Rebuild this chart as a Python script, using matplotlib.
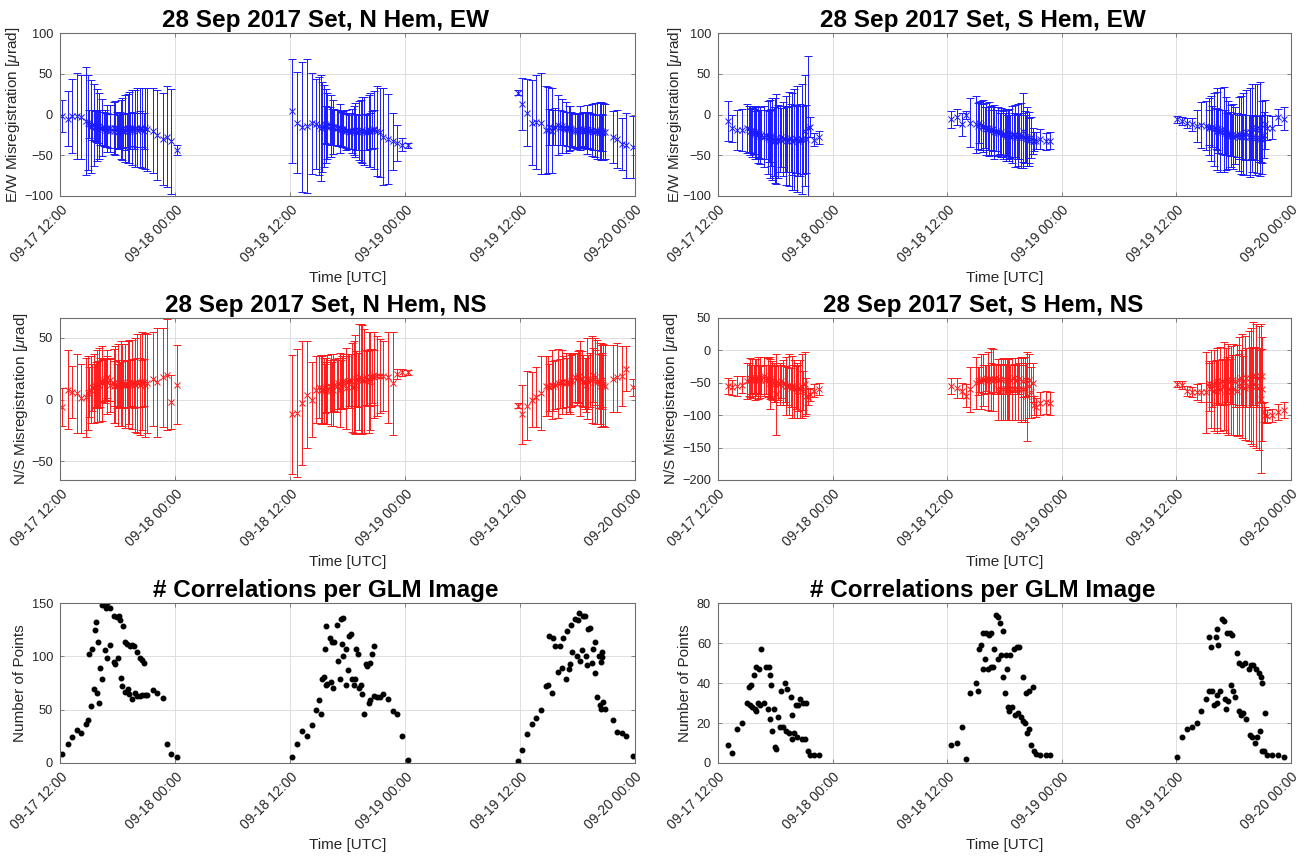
import numpy as np
import matplotlib
matplotlib.use("Agg")
import matplotlib.pyplot as plt
import matplotlib.dates as mdates

plt.rcParams["font.family"] = ["Liberation Sans", "DejaVu Sans"]
plt.rcParams["mathtext.fontset"] = "custom"
plt.rcParams["mathtext.rm"] = "Liberation Sans"
plt.rcParams["mathtext.it"] = "Liberation Sans:italic"

# hours after 2017-09-17 12:00 UTC, one entry per GLM image
# ---- northern hemisphere, three passes ----
n1_hours = [0.25, 0.8, 1.25, 1.8, 2.2, 2.7, 2.9, 3.06, 3.24, 3.3,
            3.5, 3.6, 3.8, 3.9, 3.97, 4.05, 4.2, 4.35, 4.4, 4.6,
            4.7, 4.8, 4.9, 4.95, 5.2, 5.25, 5.6, 5.65, 5.75, 5.9,
            6.0, 6.1, 6.3, 6.35, 6.5, 6.55, 6.75, 6.8, 7.0, 7.05,
            7.2, 7.3, 7.5, 7.55, 7.75, 7.8, 8.0, 8.05, 8.3, 8.35,
            8.5, 8.55, 8.8, 8.85, 9.1, 9.75, 10.1, 10.7, 11.2, 11.55,
            12.2]
n1_count = [8, 18, 24, 31, 28, 37, 40, 102, 53, 107,
            69, 125, 132, 66, 113, 56, 89, 148, 79, 150,
            106, 145, 98, 150, 145, 111, 138, 95, 93, 137,
            98, 138, 134, 80, 72, 128, 113, 67, 112, 69,
            65, 110, 60, 111, 110, 66, 104, 63, 63, 98,
            97, 64, 94, 64, 64, 68, 66, 61, 18, 8,
            6]
n1_ew = [-2, -5, -2, -2, -3, -8, -10, -12, -15, -13,
         -13, -14, -15, -13, -15, -14, -16, -17, -16, -18,
         -17, -19, -17, -19, -20, -17, -20, -17, -17, -19,
         -21, -20, -19, -18, -18, -20, -21, -17, -19, -17,
         -16, -20, -16, -18, -20, -17, -19, -16, -16, -18,
         -19, -17, -20, -17, -18, -20, -25, -30, -27, -33,
         -44]
n1_ew_sd = [20, 34, 45, 53, 52, 66, 58, 17, 57, 18,
            50, 19, 19, 44, 20, 40, 21, 20, 35, 21,
            22, 21, 29, 21, 21, 29, 21, 32, 33, 22,
            21, 22, 22, 36, 38, 21, 22, 41, 21, 42,
            44, 22, 46, 21, 22, 47, 21, 48, 49, 22,
            21, 49, 22, 50, 51, 52, 55, 57, 62, 64,
            6]
n1_ns = [-6, 8, 6, 5, 1, 2, 5, 6, 8, 10,
         9, 11, 12, 11, 12, 12, 14, 15, 13, 16,
         15, 17, 14, 18, 16, 12, 13, 11, 12, 11,
         12, 13, 12, 13, 12, 13, 12, 11, 13, 12,
         14, 13, 12, 14, 13, 12, 14, 13, 12, 14,
         13, 15, 14, 12, 13, 17, 14, 18, 20, -2,
         12]
n1_ns_sd = [15, 32, 21, 32, 28, 32, 30, 20, 27, 19,
            28, 18, 18, 29, 19, 30, 20, 17, 30, 17,
            18, 17, 26, 17, 17, 22, 18, 30, 31, 18,
            33, 19, 18, 34, 33, 19, 19, 34, 19, 35,
            34, 19, 36, 19, 20, 38, 20, 40, 41, 20,
            19, 40, 19, 42, 40, 38, 44, 40, 45, 22,
            32]

n2_hours = [24.2, 24.7, 25.2, 25.8, 26.3, 26.7, 27.0, 27.2, 27.3, 27.5,
            27.6, 27.7, 27.8, 27.9, 28.2, 28.25, 28.4, 28.5, 28.6, 28.9,
            29.0, 29.2, 29.3, 29.4, 29.5, 29.55, 29.8, 29.85, 30.0, 30.2,
            30.35, 30.5, 30.7, 30.8, 30.9, 31.1, 31.2, 31.4, 31.5, 31.7,
            31.9, 32.0, 32.2, 32.3, 32.35, 32.6, 32.75, 32.8, 33.1, 33.4,
            33.7, 34.2, 34.7, 35.2, 35.7, 36.3]
n2_count = [6, 18, 30, 25, 36, 50, 59, 46, 79, 81,
            107, 73, 128, 74, 117, 76, 113, 70, 113, 129,
            96, 79, 135, 112, 136, 100, 107, 73, 87, 119,
            121, 79, 73, 79, 107, 102, 70, 73, 65, 46,
            93, 91, 56, 59, 94, 102, 110, 63, 62, 62,
            65, 60, 49, 46, 25, 3]
n2_ew = [4, -10, -15, -14, -11, -12, -14, -17, -15, -14,
         -12, -14, -13, -14, -14, -14, -15, -15, -15, -16,
         -17, -17, -18, -18, -19, -18, -20, -19, -20, -21,
         -20, -20, -20, -19, -21, -22, -20, -20, -19, -20,
         -21, -22, -20, -19, -20, -19, -18, -19, -20, -22,
         -27, -30, -33, -35, -37, -38]
n2_ew_sd = [64, 62, 80, 82, 62, 55, 60, 65, 55, 50,
            23, 45, 23, 40, 23, 38, 22, 33, 22, 22,
            22, 30, 21, 22, 21, 22, 21, 25, 22, 21,
            22, 27, 30, 33, 22, 21, 36, 38, 40, 42,
            22, 22, 44, 45, 22, 23, 23, 48, 55, 55,
            60, 55, 35, 22, 8, 3]
n2_ns = [-12, -11, -3, 4, 0, 8, 10, 8, 8, 7,
         9, 7, 10, 8, 11, 8, 10, 8, 12, 11,
         13, 8, 12, 14, 13, 15, 14, 9, 15, 16,
         15, 10, 10, 12, 17, 16, 18, 17, 16, 15,
         18, 17, 14, 15, 18, 19, 18, 20, 19, 19,
         19, 18, 13, 21, 22, 22]
n2_ns_sd = [48, 52, 50, 43, 30, 27, 25, 28, 27, 27,
            20, 27, 20, 28, 21, 29, 20, 29, 21, 21,
            21, 30, 20, 21, 21, 22, 21, 33, 22, 21,
            22, 36, 37, 40, 22, 22, 43, 44, 44, 42,
            22, 22, 41, 40, 23, 22, 22, 35, 32, 30,
            28, 37, 42, 4, 3, 2]

n3_hours = [47.75, 48.2, 48.75, 49.2, 49.7, 50.2, 50.7, 50.9, 51.0, 51.3,
            51.4, 51.6, 52.0, 52.2, 52.4, 52.5, 52.8, 52.9, 53.1, 53.2,
            53.3, 53.4, 53.7, 53.9, 54.05, 54.2, 54.3, 54.5, 54.6, 54.8,
            54.9, 55.0, 55.1, 55.3, 55.5, 55.6, 55.8, 55.85, 56.0, 56.2,
            56.3, 56.4, 56.45, 56.5, 56.6, 56.7, 56.9, 57.7, 58.1, 58.6,
            59.1, 59.75]
n3_count = [1.5, 12, 27, 37, 42, 50, 72, 73, 119, 66,
            117, 110, 85, 110, 89, 117, 79, 124, 88, 93,
            129, 104, 135, 100, 134, 141, 96, 106, 138, 138,
            100, 92, 126, 127, 94, 107, 84, 113, 62, 100,
            54, 95, 51, 104, 99, 57, 51, 40, 29, 28,
            25, 7]
n3_ew = [27, 13, 2, -10, -9, -11, -19, -19, -15, -20,
         -16, -15, -13, -16, -14, -17, -16, -18, -17, -17,
         -18, -19, -20, -20, -19, -20, -17, -19, -18, -19,
         -20, -18, -19, -20, -19, -21, -19, -22, -20, -22,
         -20, -21, -20, -23, -22, -21, -21, -28, -30, -36,
         -38, -40]
n3_ew_sd = [3, 32, 41, 52, 58, 62, 54, 53, 22, 52,
            22, 23, 37, 22, 33, 21, 31, 21, 28, 27,
            21, 21, 21, 22, 21, 21, 27, 21, 21, 22,
            22, 30, 22, 22, 32, 22, 33, 22, 34, 22,
            35, 35, 35, 22, 23, 35, 34, 32, 36, 32,
            40, 38]
n3_ns = [-5, -12, -5, 0, 2, 5, 11, 11, 10, 12,
         11, 12, 13, 13, 14, 14, 13, 14, 14, 13,
         15, 16, 18, 17, 18, 19, 17, 17, 15, 13,
         12, 17, 14, 16, 16, 20, 15, 18, 14, 15,
         13, 12, 11, 14, 16, 12, 11, 17, 18, 19,
         25, 10]
n3_ns_sd = [2, 24, 28, 22, 24, 30, 24, 24, 19, 28,
            20, 20, 28, 20, 26, 21, 25, 20, 24, 25,
            21, 21, 20, 21, 21, 21, 30, 22, 21, 21,
            22, 33, 22, 22, 35, 22, 35, 22, 34, 22,
            33, 34, 33, 22, 22, 33, 33, 27, 28, 24,
            18, 7]

# ---- southern hemisphere, three passes ----
s1_hours = [1.0, 1.5, 1.95, 2.5, 3.0, 3.25, 3.4, 3.5, 3.6, 3.75,
            3.85, 3.95, 4.0, 4.2, 4.3, 4.45, 4.5, 4.8, 5.0, 5.2,
            5.3, 5.4, 5.45, 5.6, 5.65, 5.9, 5.95, 6.1, 6.3, 6.5,
            6.6, 6.8, 7.0, 7.1, 7.25, 7.4, 7.6, 7.7, 7.8, 8.0,
            8.15, 8.3, 8.4, 8.6, 8.8, 8.95, 9.1, 9.2, 9.4, 9.6,
            10.1, 10.6]
s1_count = [9, 5, 17, 20, 30, 38, 29, 39, 28, 44,
            27, 26, 48, 30, 47, 29, 57, 30, 48, 27,
            48, 44, 22, 39, 16, 27, 8, 7, 23, 18,
            36, 18, 40, 16, 37, 15, 33, 12, 24, 15,
            29, 13, 29, 32, 12, 30, 12, 30, 6, 4,
            4, 4]
s1_ew = [-8, -17, -19, -19, -17, -18, -20, -20, -22, -21,
         -23, -22, -24, -25, -24, -26, -25, -27, -25, -28,
         -27, -26, -30, -28, -30, -33, -32, -30, -33, -30,
         -28, -30, -30, -32, -31, -30, -29, -33, -32, -31,
         -30, -30, -32, -31, -30, -31, -20, -30, -16, -15,
         -31, -28]
s1_ew_sd = [25, 17, 25, 26, 30, 28, 30, 27, 30, 28,
            32, 33, 28, 34, 29, 35, 30, 38, 30, 45,
            31, 32, 48, 35, 50, 42, 52, 55, 45, 40,
            36, 45, 40, 55, 40, 58, 42, 60, 42, 62,
            42, 65, 43, 44, 68, 42, 68, 42, 88, 12,
            8, 8]
s1_ns = [-55, -57, -55, -53, -47, -45, -42, -45, -43, -44,
         -45, -42, -44, -43, -45, -42, -46, -40, -45, -42,
         -46, -44, -50, -48, -46, -50, -52, -68, -50, -52,
         -48, -50, -52, -55, -55, -53, -58, -57, -55, -60,
         -57, -62, -58, -60, -55, -62, -52, -70, -72, -68,
         -62, -60]
s1_ns_sd = [12, 12, 15, 13, 28, 25, 30, 22, 30, 22,
            32, 28, 22, 32, 23, 32, 22, 30, 23, 30,
            24, 31, 40, 25, 30, 30, 28, 62, 27, 32,
            26, 35, 28, 45, 30, 47, 30, 48, 32, 45,
            33, 42, 35, 45, 50, 30, 50, 28, 12, 10,
            10, 9]

s2_hours = [24.4, 25.0, 25.5, 26.0, 26.4, 27.0, 27.2, 27.3, 27.5, 27.7,
            27.75, 28.0, 28.1, 28.3, 28.4, 28.55, 28.6, 28.8, 28.9, 29.1,
            29.3, 29.35, 29.5, 29.65, 29.8, 29.85, 30.0, 30.2, 30.3, 30.35,
            30.5, 30.6, 30.8, 30.95, 31.1, 31.3, 31.45, 31.55, 31.7, 31.9,
            31.95, 32.1, 32.2, 32.35, 32.55, 32.6, 32.8, 33.0, 33.1, 33.3,
            33.75, 34.3, 34.8]
s2_count = [9, 10, 18, 2, 35, 40, 36, 57, 59, 65,
            47, 52, 65, 47, 64, 48, 65, 48, 57, 74,
            73, 52, 70, 54, 43, 66, 35, 54, 47, 28,
            26, 54, 28, 57, 24, 58, 25, 58, 23, 43,
            21, 20, 35, 15, 36, 17, 9, 38, 6, 4.5,
            4, 4, 4]
s2_ew = [-6, -3, -12, -1, -10, -12, -14, -10, -13, -15,
         -14, -16, -18, -17, -18, -19, -20, -18, -21, -20,
         -22, -21, -23, -22, -24, -25, -24, -25, -26, -24,
         -25, -27, -24, -25, -26, -27, -25, -28, -26, -28,
         -20, -28, -30, -27, -30, -32, -28, -32, -33, -32,
         -30, -33, -32]
s2_ew_sd = [10, 10, 14, 5, 30, 35, 28, 25, 30, 28,
            32, 25, 32, 26, 33, 25, 30, 27, 33, 25,
            28, 30, 25, 30, 28, 30, 26, 32, 25, 30,
            32, 26, 35, 27, 38, 28, 38, 27, 40, 30,
            46, 32, 30, 36, 33, 28, 25, 16, 12, 10,
            12, 10, 10]
s2_ns = [-55, -58, -62, -70, -60, -50, -47, -45, -48, -44,
         -46, -45, -43, -47, -44, -45, -42, -46, -44, -43,
         -45, -60, -44, -60, -60, -44, -60, -45, -60, -60,
         -60, -45, -60, -43, -60, -45, -60, -44, -60, -47,
         -60, -60, -45, -71, -45, -55, -65, -50, -85, -88,
         -82, -80, -82]
s2_ns_sd = [13, 15, 12, 18, 35, 40, 22, 20, 42, 22,
            40, 22, 20, 45, 22, 48, 22, 48, 23, 22,
            22, 47, 22, 47, 48, 23, 47, 22, 47, 47,
            48, 23, 48, 22, 48, 22, 48, 24, 50, 25,
            48, 50, 25, 69, 25, 50, 40, 30, 15, 15,
            17, 18, 18]

s3_hours = [48.1, 48.6, 49.1, 49.6, 50.2, 50.6, 51.1, 51.4, 51.45, 51.65,
            51.7, 51.9, 52.1, 52.2, 52.25, 52.3, 52.4, 52.6, 52.8, 53.0,
            53.05, 53.2, 53.3, 53.45, 53.6, 53.7, 53.8, 53.9, 54.1, 54.3,
            54.5, 54.6, 54.75, 54.85, 55.0, 55.15, 55.3, 55.6, 55.7, 55.8,
            55.9, 56.0, 56.2, 56.35, 56.4, 56.6, 56.7, 56.85, 56.95, 57.0,
            57.2, 57.3, 57.5, 58.0, 58.6, 59.3]
s3_count = [3, 13, 17, 18, 20, 26, 32, 63, 36, 58,
            36, 29, 63, 34, 67, 30, 59, 36, 72, 71,
            32, 27, 65, 31, 65, 39, 64, 36, 33, 55,
            26, 50, 24, 49, 25, 50, 22, 47, 14, 49,
            13, 49, 10, 47, 13, 45, 16, 43, 6, 40,
            6, 25, 4, 4, 4, 3]
s3_ew = [-6, -8, -10, -12, -14, -13, -14, -15, -16, -17,
         -15, -18, -17, -20, -18, -18, -20, -19, -21, -18,
         -22, -23, -24, -25, -24, -26, -25, -27, -26, -25,
         -24, -27, -25, -27, -24, -28, -22, -28, -22, -27,
         -16, -28, -18, -29, -17, -30, -18, -30, -28, -30,
         -25, -12, -16, -16, -3, -5]
s3_ew_sd = [4, 5, 6, 8, 20, 28, 30, 35, 22, 40,
            25, 45, 25, 48, 25, 50, 27, 52, 27, 52,
            28, 45, 26, 42, 27, 38, 26, 40, 35, 27,
            45, 27, 48, 28, 50, 28, 52, 28, 55, 27,
            54, 28, 56, 27, 55, 28, 58, 28, 45, 30,
            28, 30, 15, 14, 10, 14]
s3_ns = [-52, -54, -63, -64, -64, -65, -65, -55, -50, -60,
         -52, -62, -50, -58, -48, -62, -50, -60, -48, -55,
         -50, -62, -45, -60, -48, -62, -45, -60, -47, -62,
         -45, -55, -42, -55, -48, -58, -42, -55, -42, -55,
         -40, -52, -40, -55, -42, -58, -40, -75, -40, -60,
         -95, -100, -102, -100, -95, -92]
s3_ns_sd = [5, 6, 8, 8, 12, 15, 63, 38, 30, 60,
            35, 62, 35, 62, 33, 65, 35, 65, 35, 68,
            35, 65, 35, 70, 35, 68, 38, 70, 40, 70,
            40, 75, 42, 80, 40, 80, 45, 85, 45, 90,
            45, 95, 45, 95, 45, 95, 40, 115, 42, 80,
            15, 12, 10, 10, 12, 12]

START = np.datetime64("2017-09-17T12:00")


def to_time(hours):
    minutes = np.round(np.asarray(hours, dtype=float) * 60).astype(int)
    return START + minutes.astype("timedelta64[m]")


def join(*parts):
    return np.concatenate([np.asarray(p, dtype=float) for p in parts])


north_t = to_time(join(n1_hours, n2_hours, n3_hours))
south_t = to_time(join(s1_hours, s2_hours, s3_hours))

EDGE = "#6e6e6e"
TEXT = "#262626"


def setup(ax, title, ylabel, ylim, yticks, label_x):
    ax.set_xlim(to_time(0), to_time(60))
    ax.xaxis.set_major_locator(mdates.HourLocator(byhour=[0, 12]))
    ax.xaxis.set_major_formatter(mdates.DateFormatter("%m-%d %H:%M"))
    ax.set_ylim(*ylim)
    ax.set_yticks(yticks)
    ax.grid(True, color="#dedede", lw=0.7)
    ax.set_axisbelow(True)
    for s in ax.spines.values():
        s.set_color(EDGE)
        s.set_linewidth(0.8)
    ax.tick_params(direction="in", length=3, width=0.6, color=EDGE,
                   top=True, right=True, labelcolor=TEXT, pad=5)
    ax.tick_params(axis="x", labelsize=10)
    ax.tick_params(axis="y", labelsize=9.2)
    plt.setp(ax.get_xticklabels(), rotation=45, ha="right", va="top",
             rotation_mode="anchor")
    ax.set_title(title, fontsize=17.5, fontweight="bold", x=0.462, pad=4)
    ax.set_ylabel(ylabel, fontsize=11, color=TEXT)
    ax.yaxis.set_label_coords(label_x, 0.5)
    ax.set_xlabel("Time [UTC]", fontsize=11, color=TEXT, labelpad=4)


def bars(ax, t, mean, sd, color):
    ax.errorbar(t, mean, yerr=sd, fmt="x", color=color, ms=4.5, mew=0.7,
                elinewidth=0.7, capsize=3, capthick=0.7)


fig = plt.figure(figsize=(13, 8.6), dpi=100)
cols = [(0.0462, 0.4423), (0.5523, 0.4408)]
rows = [(0.7721, 0.1895), (0.4419, 0.1884), (0.1128, 0.1860)]
axes = [[fig.add_axes([c[0], r[0], c[1], r[1]]) for c in cols] for r in rows]

ew_label = r"E/W Misregistration [$\mu$rad]"
ns_label = r"N/S Misregistration [$\mu$rad]"

ax = axes[0][0]
bars(ax, north_t, join(n1_ew, n2_ew, n3_ew), join(n1_ew_sd, n2_ew_sd, n3_ew_sd), "#1a1aff")
setup(ax, "28 Sep 2017 Set, N Hem, EW", ew_label, (-100, 100),
      [-100, -50, 0, 50, 100], -0.066)

ax = axes[0][1]
bars(ax, south_t, join(s1_ew, s2_ew, s3_ew), join(s1_ew_sd, s2_ew_sd, s3_ew_sd), "#1a1aff")
setup(ax, "28 Sep 2017 Set, S Hem, EW", ew_label, (-100, 100),
      [-100, -50, 0, 50, 100], -0.059)

ax = axes[1][0]
bars(ax, north_t, join(n1_ns, n2_ns, n3_ns), join(n1_ns_sd, n2_ns_sd, n3_ns_sd), "#ff1a1a")
setup(ax, "28 Sep 2017 Set, N Hem, NS", ns_label, (-65, 66), [-50, 0, 50], -0.053)

ax = axes[1][1]
bars(ax, south_t, join(s1_ns, s2_ns, s3_ns), join(s1_ns_sd, s2_ns_sd, s3_ns_sd), "#ff1a1a")
setup(ax, "28 Sep 2017 Set, S Hem, NS", ns_label, (-200, 50),
      [-200, -150, -100, -50, 0, 50], -0.066)

ax = axes[2][0]
ax.plot(north_t, join(n1_count, n2_count, n3_count), ".", color="k", ms=6.5)
setup(ax, "# Correlations per GLM Image", "Number of Points", (0, 150),
      [0, 50, 100, 150], -0.058)

ax = axes[2][1]
ax.plot(south_t, join(s1_count, s2_count, s3_count), ".", color="k", ms=6.5)
setup(ax, "# Correlations per GLM Image", "Number of Points", (0, 80),
      [0, 20, 40, 60, 80], -0.045)

fig.savefig("out.png", dpi=100)
